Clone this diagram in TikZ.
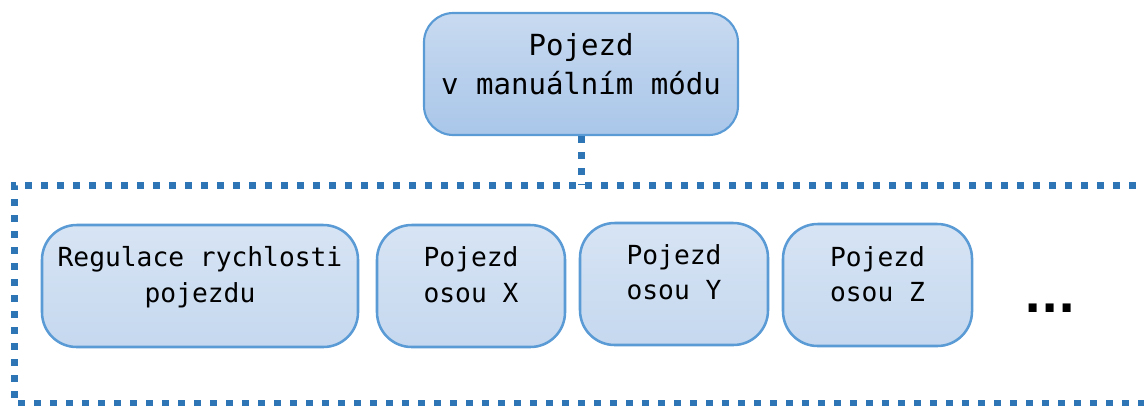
\documentclass[tikz,border=0pt]{standalone}
\usepackage{fontspec}
\setmonofont{DejaVu Sans Mono}
\newfontfamily\ellfont{DejaVu Sans}
\usetikzlibrary{positioning}

\definecolor{boxline}{HTML}{5B9BD5}
\definecolor{dotblue}{HTML}{2E75B6}
\definecolor{topA}{HTML}{C8DAF0}
\definecolor{topB}{HTML}{A9C6E9}
\definecolor{subA}{HTML}{D7E4F4}
\definecolor{subB}{HTML}{C5D8EF}

\begin{document}
\begin{tikzpicture}[x=0.75pt, y=-0.75pt,
  headbox/.style={draw=boxline, line width=1.6pt, rounded corners=22pt,
    top color=topA, bottom color=topB, minimum width=235.5pt, minimum height=91.5pt},
  subbox/.style={draw=boxline, line width=1.9pt, rounded corners=26pt,
    top color=subA, bottom color=subB, minimum height=91.5pt},
  headtxt/.style={align=center, inner sep=0pt,
    font=\ttfamily\fontsize{21.8}{29.5}\selectfont},
  subtxt/.style={align=center, inner sep=0pt,
    font=\ttfamily\fontsize{19.7}{26.6}\selectfont},
  dots/.style={draw=dotblue, line width=5.25pt, line cap=butt,
    dash pattern=on 5.25pt off 6.75pt}
]
\useasboundingbox (0,0) rectangle (1144,405);

% Top level box
\node[headbox] (manual) at (581,74) {};
\node[headtxt] (manualtxt) at (581,64) {Pojezd\\v manuálním módu};

% Dotted frame around the sub functions
\coordinate (frameNW) at (14,185);
\coordinate (frameSE) at (1152,403);
\coordinate (link) at (581,185);
\draw[dots] (frameSE |- frameNW) -- (frameNW) -- (frameNW |- frameSE) -- (frameSE);
\draw[dots] (manual.south) -- (link);

% Sub functions
\node[subbox, minimum width=237pt] (speed) at (200,286) {};
\node[subtxt] (speedtxt) at (200,277) {Regulace rychlosti\\pojezdu};

\node[subbox, minimum width=141pt] (axisX) at (471,286) {};
\node[subtxt] (axisXtxt) at (471,274.7) {Pojezd\\osou X};

\node[subbox, minimum width=141pt] (axisY) at (674,284) {};
\node[subtxt] (axisYtxt) at (674,272.4) {Pojezd\\osou Y};

\node[subbox, minimum width=141.75pt] (axisZ) at (877.5,285) {};
\node[subtxt] (axisZtxt) at (877.5,274.4) {Pojezd\\osou Z};

% More items follow
\node[inner sep=0pt, font=\ellfont\bfseries\fontsize{34}{34}\selectfont] (more) at (1050,308) {...};

\end{tikzpicture}
\end{document}
